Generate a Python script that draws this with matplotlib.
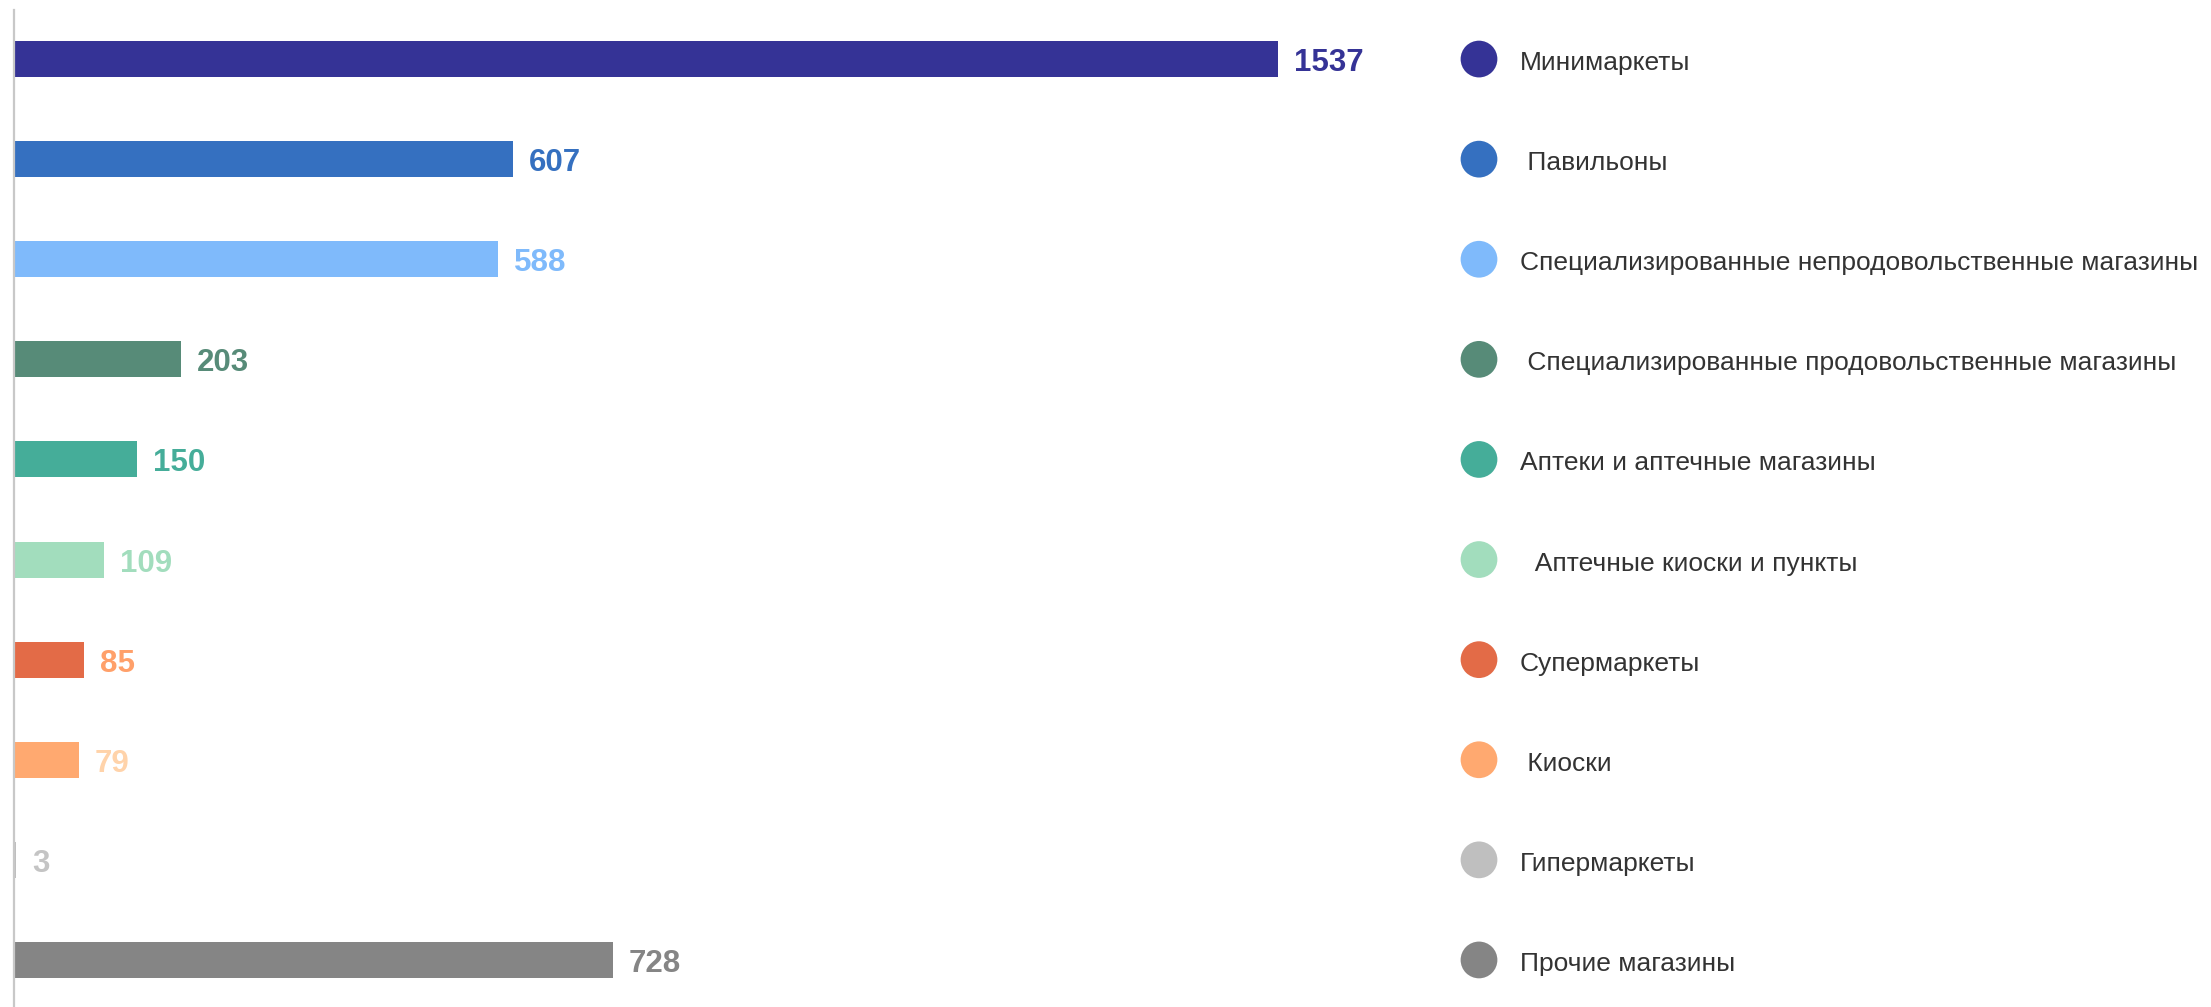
import numpy as np
import matplotlib.pyplot as plt

plt.rcParams['font.family'] = ['Liberation Sans', 'DejaVu Sans']

# data
categories = ['Минимаркеты', ' Павильоны',
              'Специализированные непродовольственные магазины',
              ' Специализированные продовольственные магазины',
              'Аптеки и аптечные магазины', '  Аптечные киоски и пункты',
              'Супермаркеты', ' Киоски', 'Гипермаркеты', 'Прочие магазины']
values = [1537, 607, 588, 203, 150, 109, 85, 79, 3, 728]
bar_colors = ['#353396', '#3570C0', '#7FBAFB', '#578B78', '#45AD99',
              '#A2DDBD', '#E36B47', '#FFA970', '#BFBFBF', '#858585']
label_colors = ['#353396', '#3570C0', '#7FBAFB', '#578B78', '#45AD99',
                '#A2DDBD', '#FFA06A', '#FFD3AA', '#C4C4C4', '#858585']

W, H = 2211, 1007
fig = plt.figure(figsize=(W / 100, H / 100), dpi=100)

y = np.arange(len(values))

# bars
ax = fig.add_axes([14 / W, 0, 1400 / W, 997 / H])
ax.barh(y, values, height=0.36, color=bar_colors)
ax.set_xlim(0, 1400 / 0.8224)
ax.set_ylim(9.47, -0.49)
for i, v in enumerate(values):
    ax.annotate(str(v), (v, i), xytext=(16, -4), textcoords='offset pixels',
                va='center', ha='left', fontsize=22.5, fontweight='bold',
                color=label_colors[i])
for s in ['top', 'right', 'bottom']:
    ax.spines[s].set_visible(False)
ax.spines['left'].set_color('#C8C8C8')
ax.spines['left'].set_linewidth(1.6)
ax.set_xticks([])
ax.set_yticks([])

# legend
lg = fig.add_axes([1440 / W, 0, 771 / W, 997 / H])
lg.set_xlim(0, 771)
lg.set_ylim(9.47, -0.49)
lg.axis('off')
lg.scatter(np.full(len(y), 39), y, s=700, c=bar_colors, marker='o',
           linewidths=0)
for i, name in enumerate(categories):
    lg.annotate(name, (80, i), xytext=(0, -4), textcoords='offset pixels',
                va='center', ha='left', fontsize=19, color='#333333')

fig.savefig('out.png', dpi=100)
